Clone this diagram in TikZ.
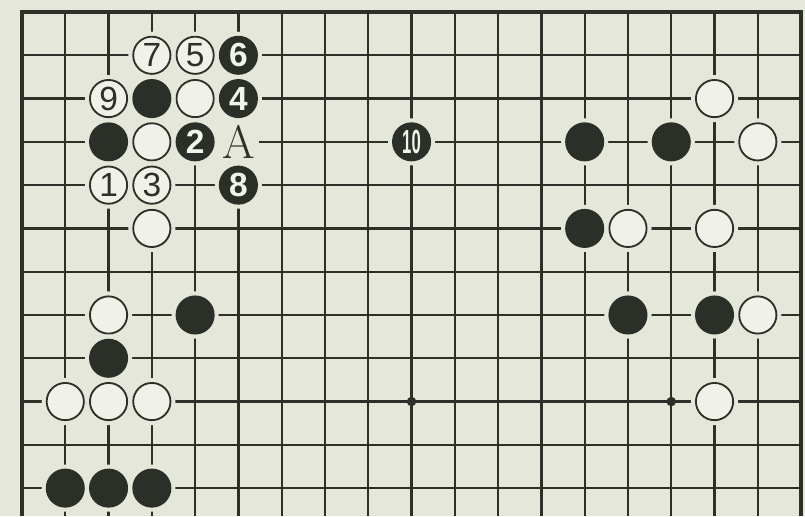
\documentclass[tikz,border=0pt]{standalone}
\usepackage{fontspec}
\usepackage{graphicx}
\usepackage{tikz}
\usetikzlibrary{positioning}
\newfontfamily\stonefont{Liberation Sans}
\definecolor{paper}{RGB}{230,231,219}
\definecolor{gridink}{RGB}{44,48,40}
\definecolor{stoneink}{RGB}{42,47,40}
\tikzset{
  gridline/.style={draw=gridink, line width=1.5pt},
  edgeline/.style={draw=gridink, line width=2.6pt, line join=miter},
  stonebase/.style={circle, minimum size=0.86cm, inner sep=0pt,
                    preaction={draw=paper, line width=6.5pt}},
  whitestone/.style={stonebase, fill=paper!60!white, draw=gridink, line width=1.2pt,
                     text=gridink, font=\stonefont\fontsize{22}{22}\selectfont},
  blackstone/.style={stonebase, fill=stoneink, draw=stoneink, line width=1.2pt,
                     text=paper!50!white, font=\stonefont\bfseries\fontsize{22}{22}\selectfont},
  hoshi/.style={circle, fill=gridink, inner sep=0pt, minimum size=0.22cm},
  pointlabel/.style={fill=paper, inner xsep=2.5pt, inner ysep=6pt, text=gridink,
                     font=\fontsize{31}{31}\selectfont}
}

\begin{document}
\begin{tikzpicture}
  % Page and paper
  \useasboundingbox (-0.508,0.277) rectangle (18.09,-11.645);
  \fill[paper] (-0.508,0.277) rectangle (18.09,-11.645);

  % Inner grid lines (board runs on below the cut)
  \foreach \r in {1,...,11}
    \draw[gridline] (0,-\r) -- (18,-\r);
  \foreach \c in {1,...,17}
    \draw[gridline] (\c,0) -- (\c,-11.645);

  % Board edges: top, left and right
  \draw[edgeline] (0,-11.645) -- (0,0) -- (18,0) -- (18,-11.645);

  % Star points left open
  \node[hoshi] (hoshiL) at (9,-9) {};
  \node[hoshi] (hoshiR) at (15,-9) {};

  % Stones already on the board
  \foreach \c/\r in {4/2,3/3,3/5,2/7,1/9,2/9,3/9,16/2,17/3,14/5,16/5,17/7,16/9}
    \node[whitestone] (w-\c-\r) at (\c,-\r) {};
  \foreach \c/\r in {3/2,2/3,4/7,2/8,1/11,2/11,3/11,13/3,15/3,13/5,14/7,16/7}
    \node[blackstone] (b-\c-\r) at (\c,-\r) {};

  % Marked point (under the stones next to it)
  \node[pointlabel] (ptA) at (5,-3) {A};

  % Numbered moves
  \node[whitestone] (mv1) at (2,-4) {1};
  \node[blackstone] (mv2) at (4,-3) {2};
  \node[whitestone] (mv3) at (3,-4) {3};
  \node[blackstone] (mv4) at (5,-2) {4};
  \node[whitestone] (mv5) at (4,-1) {5};
  \node[blackstone] (mv6) at (5,-1) {6};
  \node[whitestone] (mv7) at (3,-1) {7};
  \node[blackstone] (mv8) at (5,-4) {8};
  \node[whitestone] (mv9) at (2,-2) {9};
  \node[blackstone] (mv10) at (9,-3) {\scalebox{0.5}[1]{10}};
\end{tikzpicture}
\end{document}
